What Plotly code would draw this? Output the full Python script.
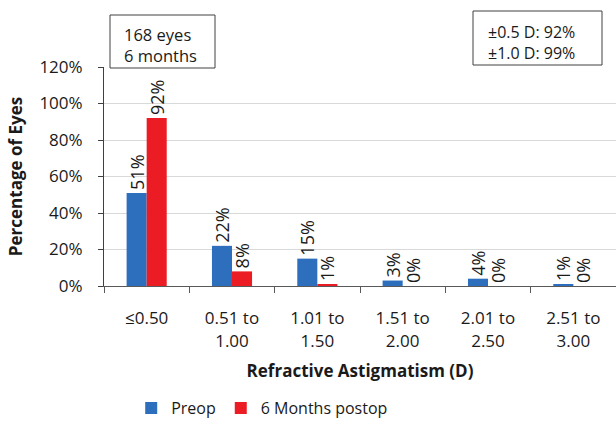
import plotly.graph_objects as go

categories = ["≤0.50", "0.51 to<br>1.00", "1.01 to<br>1.50", "1.51 to<br>2.00", "2.01 to<br>2.50", "2.51 to<br>3.00"]
preop = [51, 22, 15, 3, 4, 1]
postop_6m = [92, 8, 1, 0, 0, 0]
y_ticks = [0, 20, 40, 60, 80, 100, 120]

FONT = "Open Sans"
TXT = "#1a1a1a"

# pixel helpers for the plot area (left 104, top 67, 512 x 219)
def px(x):
    return (x - 104) / 512

def py(y):
    return (286 - y) / 219

fig = go.Figure()
fig.add_trace(go.Bar(
    x=categories, y=preop, name="Preop",
    marker=dict(color="#2e6fbd", line=dict(width=0)),
    text=[f"{v}%" for v in preop], textposition="outside", textangle=-90,
    constraintext="none", cliponaxis=False,
    textfont=dict(family=FONT, size=18, color=TXT),
))
fig.add_trace(go.Bar(
    x=categories, y=postop_6m, name="6 Months postop",
    marker=dict(color="#ec1c24", line=dict(width=0)),
    text=[f"{v}%" for v in postop_6m], textposition="outside", textangle=-90,
    constraintext="none", cliponaxis=False,
    textfont=dict(family=FONT, size=18, color=TXT),
))

box_line = dict(color="#404040", width=1)
fig.update_layout(
    width=616, height=433,
    margin=dict(l=104, r=0, t=67, b=147),
    paper_bgcolor="white", plot_bgcolor="white",
    font=dict(family=FONT, size=17, color=TXT),
    barmode="group", bargap=0.53, bargroupgap=0,
    showlegend=True,
    legend=dict(orientation="h", x=0.309, y=-0.557, xanchor="center", yanchor="middle",
                font=dict(family=FONT, size=16, color=TXT), itemwidth=30,
                traceorder="normal"),
    xaxis=dict(
        showline=True, linecolor="#595959", linewidth=1,
        ticks="outside", tickson="boundaries", ticklen=6, tickcolor="#595959",
        ticklabelstandoff=17,
        tickfont=dict(family=FONT, size=17, color=TXT),
        title=dict(text="<b>Refractive Astigmatism (D)</b>", standoff=14,
                   font=dict(family=FONT, size=17, color=TXT)),
    ),
    yaxis=dict(
        range=[0, 120], tickvals=y_ticks, ticktext=[f"{v}%" for v in y_ticks],
        showline=True, linecolor="#404040", linewidth=1,
        ticks="outside", ticklen=5, tickcolor="#404040",
        ticklabelstandoff=12,
        showgrid=True, gridcolor="#d9d9d9", gridwidth=1, zeroline=False,
        tickfont=dict(family=FONT, size=17, color=TXT),
        title=dict(text="<b>Percentage of Eyes</b>", standoff=12,
                   font=dict(family=FONT, size=17, color=TXT)),
    ),
    shapes=[
        dict(type="rect", xref="paper", yref="paper", layer="above",
             x0=px(110), x1=px(215), y0=py(68), y1=py(15),
             line=box_line, fillcolor="white"),
        dict(type="rect", xref="paper", yref="paper", layer="above",
             x0=px(473), x1=px(602), y0=py(65), y1=py(11),
             line=box_line, fillcolor="white"),
    ],
    annotations=[
        dict(xref="paper", yref="paper", x=px(122), y=py(44.5),
             xanchor="left", yanchor="middle", align="left", showarrow=False,
             text="168 eyes<br>6 months", font=dict(family=FONT, size=16.5, color=TXT)),
        dict(xref="paper", yref="paper", x=px(486), y=py(42.5),
             xanchor="left", yanchor="middle", align="left", showarrow=False,
             text="±0.5 D: 92%<br>±1.0 D: 99%", font=dict(family=FONT, size=16, color=TXT)),
    ],
)

fig.write_html("out.html")
